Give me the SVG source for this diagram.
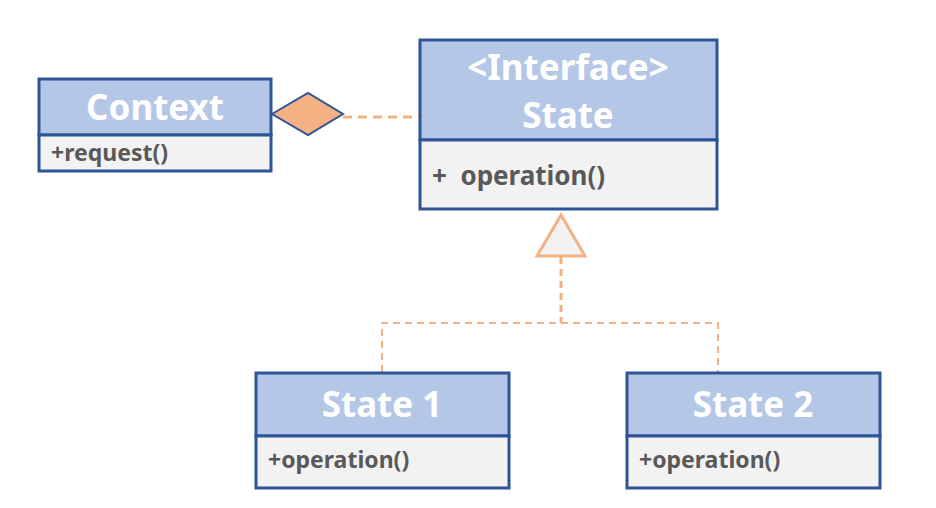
<svg xmlns="http://www.w3.org/2000/svg" width="936" height="508" viewBox="0 0 936 508">
<style>
.hd{fill:#B4C7E7;stroke:#2F5597;stroke-width:3}
.bd{fill:#F2F2F2;stroke:#2F5597;stroke-width:3}
.tt{font-family:"Noto Sans","Open Sans",sans-serif;font-weight:bold;fill:#FFFFFF;font-size:35px;text-anchor:middle}
.op{font-family:"Noto Sans","Open Sans",sans-serif;font-weight:bold;fill:#595959;font-size:23px}
.dash{fill:none;stroke:#F4B183;stroke-width:2;stroke-dasharray:7 5}
</style>
<rect width="936" height="508" fill="#FFFFFF"/>
<g id="connectors">
<line class="dash" x1="343" y1="117" x2="420" y2="117" style="stroke-width:3;stroke-dasharray:9 6"/>
<polygon points="272,114 308,93 343,114 308,135" fill="#F4B183" stroke="#2F5597" stroke-width="2"/>
<line class="dash" x1="561" y1="257" x2="561" y2="323" style="stroke-width:3"/>
<polyline class="dash" points="382,372 382,323 718,323 718,372"/>
<polygon points="561,215 537,256 585,256" fill="#F2F2F2" stroke="#F4B183" stroke-width="3"/>
</g>
<g id="context">
<rect class="hd" x="39" y="79" width="232" height="56"/>
<rect class="bd" x="39" y="135" width="232" height="36"/>
<text class="tt" x="155" y="120">Context</text>
<text class="op" x="51" y="161">+request()</text>
</g>
<g id="state">
<rect class="hd" x="420" y="40" width="297" height="100"/>
<rect class="bd" x="420" y="140" width="297" height="69"/>
<text class="tt" x="568" y="80">&lt;Interface&gt;</text>
<text class="tt" x="568" y="128">State</text>
<text class="op" x="432" y="185" style="font-size:26px" xml:space="preserve">+  operation()</text>
</g>
<g id="state1">
<rect class="hd" x="256" y="373" width="253" height="63"/>
<rect class="bd" x="256" y="436" width="253" height="52"/>
<text class="tt" x="382" y="417">State 1</text>
<text class="op" x="268" y="468">+operation()</text>
</g>
<g id="state2">
<rect class="hd" x="627" y="373" width="253" height="63"/>
<rect class="bd" x="627" y="436" width="253" height="52"/>
<text class="tt" x="753" y="417">State 2</text>
<text class="op" x="639" y="468">+operation()</text>
</g>
</svg>
